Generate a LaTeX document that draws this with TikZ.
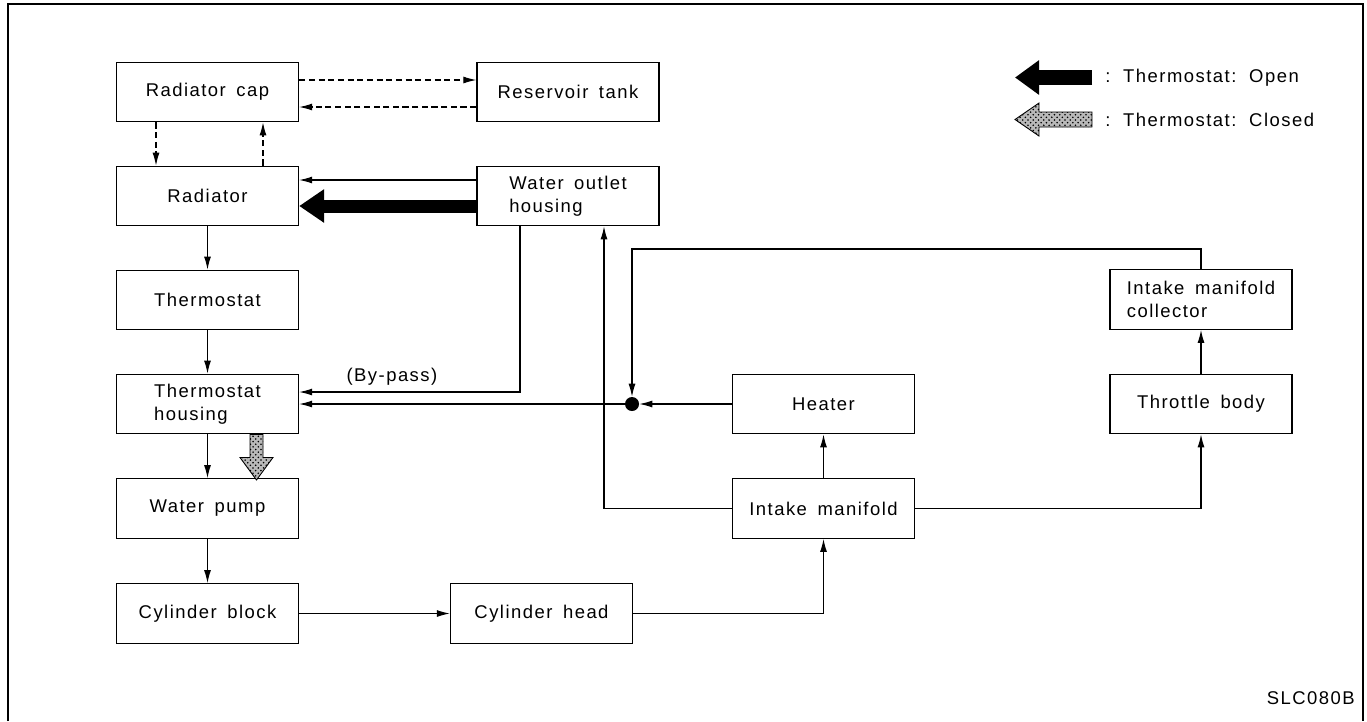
\documentclass[tikz,border=0pt]{standalone}
\usepackage{fontspec}
\setmainfont{Liberation Sans}[LetterSpace=8,WordSpace=1.6]
\usetikzlibrary{arrows.meta,positioning,patterns}

\tikzset{
  part/.style={draw, line width=0.8pt, minimum width=3.64cm, minimum height=1.19cm,
    inner sep=0pt, align=left},
  flow/.style={line width=0.6pt, -{Latex[length=2.6mm,width=1.4mm]}},
  vent/.style={flow, dash pattern=on 3.5pt off 2pt},
  closedflow/.style={line width=0.5pt, pattern=crosshatch dots, preaction={fill=gray!55}},
}

\begin{document}
\begin{tikzpicture}[scale=1.0, font=\fontsize{10.5}{13}\selectfont]
  \useasboundingbox (0,0) rectangle (27.34,-14.42);
  \draw[line width=0.8pt] (0.16,-14.42) -- (0.16,-0.08) -- (27.26,-0.08) -- (27.26,-14.42);

  % left column
  \node[part] (cap) at (4.15,-1.84) {Radiator cap};
  \node[part] (radiator) at (4.15,-3.92) {Radiator};
  \node[part] (thermo) at (4.15,-6.0) {Thermostat};
  \node[part] (housing) at (4.15,-8.08) {Thermostat\\housing};
  \node[part] (pump) at (4.15,-10.17) {Water pump};
  \node[part] (block) at (4.15,-12.27) {Cylinder block};
  % middle and right
  \node[part] (tank) at (11.36,-1.84) {Reservoir tank};
  \node[part] (outlet) at (11.36,-3.92) {Water outlet\\housing};
  \node[part] (head) at (10.83,-12.27) {Cylinder head};
  \node[part] (heater) at (16.47,-8.08) {Heater};
  \node[part] (manifold) at (16.47,-10.17) {Intake manifold};
  \node[part] (throttle) at (24.02,-8.08) {Throttle body};
  \node[part] (collector) at (24.02,-5.99) {Intake manifold\\collector};
  \node[circle, fill, inner sep=0pt, minimum size=0.28cm] (joint) at (12.64,-8.08) {};
  \coordinate (bend) at (12.64,-4.98);

  % pressure cap and reservoir
  \draw[vent] ([yshift=0.24cm]cap.east) -- ([yshift=0.24cm]tank.west);
  \draw[vent] ([yshift=-0.30cm]tank.west) -- ([yshift=-0.30cm]cap.east);
  \draw[vent] ([xshift=-1.03cm]cap.south) -- ([xshift=-1.03cm]radiator.north);
  \draw[vent] ([xshift=1.11cm]radiator.north) -- ([xshift=1.11cm]cap.south);

  % main circuit
  \draw[flow] ([yshift=0.32cm]outlet.west) -- ([yshift=0.32cm]radiator.east);
  \draw[line width=0.26cm, -{Triangle[length=0.5cm,width=0.64cm]}]
    ([yshift=-0.2cm]outlet.west) -- ([yshift=-0.2cm]radiator.east);
  \draw[flow] (radiator) -- (thermo);
  \draw[flow] (thermo) -- (housing);
  \draw[flow] (housing) -- (pump);
  \draw[closedflow] ([xshift=0.85cm]housing.south) -- ++(0,-0.46) -- ++(-0.2,0)
    -- ++(0.33,-0.45) -- ++(0.33,0.45) -- ++(-0.2,0) -- ++(0,0.46) -- cycle;
  \draw[flow] (pump) -- (block);
  \draw[flow] (block) -- (head);
  \draw[flow] (head.east) -| (manifold.south);
  \draw[flow] (manifold) -- (heater);
  \draw[flow] (manifold.east) -| (throttle.south);
  \draw[flow] (throttle) -- (collector);
  \draw[flow] (collector.north) |- (bend) -- (joint.north);
  \draw[flow] (heater.west) -- (joint);
  \draw[flow] (joint) -- (housing.east);
  \draw[flow] (manifold.west) -| ([xshift=0.72cm]outlet.south);
  \draw[flow] ([xshift=-0.96cm]outlet.south) |- node[pos=0.79, above] {(By-pass)}
    ([yshift=0.24cm]housing.east);

  % key
  \node[anchor=west, inner sep=0pt] (openkey) at (22.1,-1.55) {: Thermostat: Open};
  \node[anchor=west, inner sep=0pt] (shutkey) at (22.1,-2.39) {: Thermostat: Closed};
  \draw[line width=0.3cm, -{Triangle[length=0.48cm,width=0.66cm]}]
    ([xshift=-0.26cm]openkey.west) -- ++(-1.54,0);
  \draw[closedflow] ([xshift=-0.26cm,yshift=0.15cm]shutkey.west) -- ++(-1.06,0) -- ++(0,0.18)
    -- ++(-0.48,-0.33) -- ++(0.48,-0.33) -- ++(0,0.18) -- ++(1.06,0) -- cycle;

  \node[anchor=east, inner sep=0pt] (code) at (27.1,-13.96) {SLC080B};
\end{tikzpicture}
\end{document}
